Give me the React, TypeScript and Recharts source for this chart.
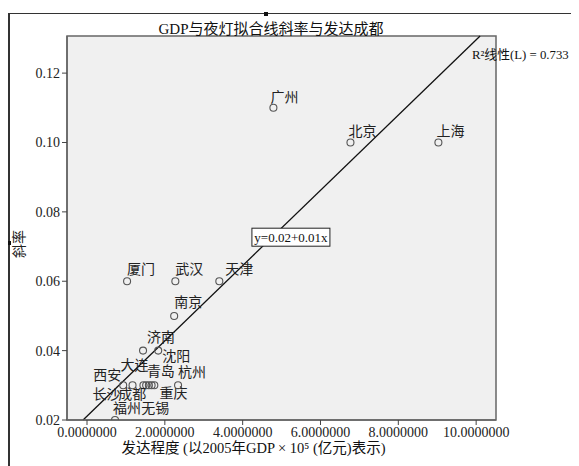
import React from "react";
import {
  ScatterChart,
  Scatter,
  XAxis,
  YAxis,
  ReferenceArea,
  ReferenceLine,
  ReferenceDot,
  Label,
} from "recharts";

// ---------- data ----------
const CITIES = [
  "广州", "北京", "上海", "天津", "武汉", "厦门", "南京", "济南", "沈阳",
  "西安", "大连", "长沙", "成都", "青岛", "重庆", "无锡", "杭州", "福州",
];
const DEVELOPMENT = [
  4.79, 6.77, 9.03, 3.4, 2.27, 1.03, 2.24, 1.44, 1.83,
  0.93, 1.17, 1.45, 1.52, 1.59, 1.66, 1.73, 2.34, 0.72,
];
const SLOPE = [
  0.11, 0.1, 0.1, 0.06, 0.06, 0.06, 0.05, 0.04, 0.04,
  0.03, 0.03, 0.03, 0.03, 0.03, 0.03, 0.03, 0.03, 0.02,
];
const X_TICKS = [0, 2, 4, 6, 8, 10];
const Y_TICKS = [0.02, 0.04, 0.06, 0.08, 0.1, 0.12];
const X_DOMAIN: [number, number] = [-0.514, 10.51];
const Y_DOMAIN: [number, number] = [0.02, 0.1307];
const FIT_INTERCEPT = 0.0211;
const FIT_SLOPE = 0.01085;
const FIT_TEXT = "y=0.02+0.01x";
const R2_TEXT = "R²线性(L) = 0.733";
const TITLE = "GDP与夜灯拟合线斜率与发达成都";
const X_LABEL = "发达程度 (以2005年GDP × 10⁵ (亿元)表示)";
const Y_LABEL = "斜率";
const EQ_ANCHOR = { x: 5.24, y: 0.0727 };

const data = CITIES.map((name, i) => ({ name, x: DEVELOPMENT[i], y: SLOPE[i] }));

// label offsets (pixels, relative to point; text-anchor start, baseline)
const LABEL_OFFSETS: Record<string, [number, number]> = {
  广州: [-3, -6],
  北京: [-2, -6],
  上海: [-2, -6],
  天津: [6, -7],
  武汉: [0, -7],
  厦门: [0, -7],
  南京: [0, -9],
  济南: [4, -9],
  沈阳: [4, 10],
  西安: [-30, -5],
  大连: [-12, -15],
  长沙: [-51, 14],
  成都: [-28, 14],
  青岛: [-2, -9],
  重庆: [8, 13],
  无锡: [-13, 28],
  杭州: [0, -8],
  福州: [-2, -7],
};

const FONT = "'Liberation Serif', 'Times New Roman', 'Noto Sans CJK SC', serif";

const PointShape = (props: any) => {
  const { cx, cy, payload } = props;
  const off = LABEL_OFFSETS[payload.name] || [0, -6];
  return (
    <g>
      <circle cx={cx} cy={cy} r={3.5} fill="none" stroke="#555" strokeWidth={1.1} />
      <text
        x={cx + off[0]}
        y={cy + off[1]}
        fontSize={14}
        fontFamily={FONT}
        fill="#222"
        textAnchor="start"
      >
        {payload.name}
      </text>
    </g>
  );
};

const EqShape = (props: any) => {
  const { cx, cy } = props;
  const w = 78;
  const h = 18;
  return (
    <g>
      <rect x={cx - w / 2} y={cy - h / 2} width={w} height={h} fill="#fff" stroke="#222" strokeWidth={1} />
      <text x={cx} y={cy + 4.5} fontSize={13} fontFamily={FONT} fill="#111" textAnchor="middle">
        {FIT_TEXT}
      </text>
    </g>
  );
};

const xStart = (Y_DOMAIN[0] - FIT_INTERCEPT) / FIT_SLOPE;
const xEnd = (Y_DOMAIN[1] - FIT_INTERCEPT) / FIT_SLOPE;

export default function App() {
  return (
    <div style={{ position: "relative", width: 571, height: 458, fontFamily: FONT }}>
      <ScatterChart
        width={571}
        height={458}
        margin={{ top: 28, right: 83, bottom: 16, left: 9 }}
        style={{ position: "absolute", left: 0, top: 0 }}
      >
        <XAxis
          type="number"
          dataKey="x"
          domain={X_DOMAIN}
          ticks={X_TICKS}
          allowDataOverflow
          height={30}
          tickFormatter={(v: number) => v.toFixed(7)}
          tick={{ fontSize: 14, fill: "#222", fontFamily: FONT }}
          tickSize={5}
          tickLine={{ stroke: "#444" }}
          axisLine={{ stroke: "#666", strokeWidth: 1.5 }}
          interval={0}
        >
          <Label
            content={(p: any) => {
              const vb = p.viewBox;
              return (
                <text
                  x={vb.x + vb.width / 2 - 28}
                  y={vb.y + 33}
                  fontSize={14.5}
                  fontFamily={FONT}
                  fill="#111"
                  textAnchor="middle"
                >
                  {X_LABEL}
                </text>
              );
            }}
          />
        </XAxis>
        <YAxis
          type="number"
          dataKey="y"
          domain={Y_DOMAIN}
          ticks={Y_TICKS}
          allowDataOverflow
          width={50}
          tickFormatter={(v: number) => v.toFixed(2)}
          tick={{ fontSize: 14, fill: "#222", fontFamily: FONT }}
          tickSize={5}
          tickLine={{ stroke: "#444" }}
          axisLine={{ stroke: "#666", strokeWidth: 1.5 }}
          interval={0}
        >
          <Label
            content={() => {
              const cx = 11;
              const cy = 236;
              return (
                <text
                  x={cx}
                  y={cy}
                  fontSize={14}
                  fontFamily={FONT}
                  fill="#222"
                  textAnchor="middle"
                  transform={`rotate(-90 ${cx} ${cy})`}
                  dominantBaseline="central"
                >
                  {Y_LABEL}
                </text>
              );
            }}
          />
        </YAxis>
        <ReferenceArea
          x1={X_DOMAIN[0]}
          x2={X_DOMAIN[1]}
          y1={Y_DOMAIN[0]}
          y2={Y_DOMAIN[1]}
          fill="#f0f0f0"
          fillOpacity={1}
          stroke="#666"
          strokeWidth={1.5}
          ifOverflow="extendDomain"
        />
        <ReferenceLine
          segment={[
            { x: xStart, y: FIT_INTERCEPT + FIT_SLOPE * xStart },
            { x: xEnd, y: FIT_INTERCEPT + FIT_SLOPE * xEnd },
          ]}
          stroke="#111"
          strokeWidth={1.3}
          ifOverflow="visible"
        />
        <Scatter data={data} shape={<PointShape />} isAnimationActive={false} />
        <ReferenceDot x={EQ_ANCHOR.x} y={EQ_ANCHOR.y} r={0} shape={<EqShape />} ifOverflow="visible" />
      </ScatterChart>
      {/* outer frame */}
      <div
        style={{
          position: "absolute",
          left: 0,
          top: 5,
          width: 600,
          height: 500,
          borderLeft: "2px solid #333",
          borderTop: "1.5px solid #333",
          pointerEvents: "none",
        }}
      />
      <div style={{ position: "absolute", left: 256, top: 4, width: 4, height: 4, background: "#111" }} />
      <div style={{ position: "absolute", left: -1, top: 233, width: 4, height: 4, background: "#111" }} />
      <div
        style={{
          position: "absolute",
          left: 0,
          top: 9,
          width: 526,
          textAlign: "center",
          fontSize: 15,
          color: "#111",
          whiteSpace: "nowrap",
        }}
      >
        {TITLE}
      </div>
      <div
        style={{
          position: "absolute",
          left: 464,
          top: 36,
          fontSize: 12.8,
          color: "#111",
          whiteSpace: "nowrap",
        }}
      >
        {R2_TEXT}
      </div>
    </div>
  );
}
